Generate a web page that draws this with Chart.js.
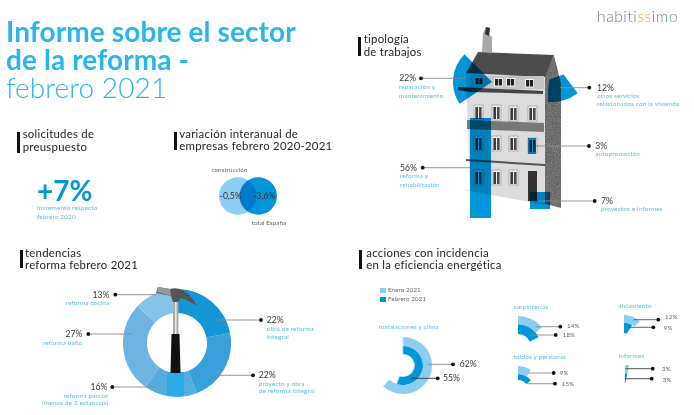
<!DOCTYPE html>
<html lang="es">
<head>
<meta charset="utf-8">
<title>Informe sobre el sector de la reforma - febrero 2021</title>
<script src="https://cdn.jsdelivr.net/npm/chart.js@4"></script>
<style>
  html, body { margin: 0; padding: 0; background: #fff; }
  #lienzo { position: relative; width: 694px; height: 415px; overflow: hidden; font-family: Lato, "Open Sans", sans-serif; }
  #lienzo canvas { position: absolute; }
  #lienzo svg { position: absolute; left: 0; top: 0; }
  .azul { mix-blend-mode: multiply; }
  .t { position: absolute; white-space: nowrap; transform: translateY(-50%); line-height: 1; }
  .titulo { font-size: 28px; font-weight: 700; color: #29b5ee; letter-spacing: .1px; }
  .titulo.fino { font-weight: 300; }
  .seccion { font-size: 11.4px; color: #222; letter-spacing: .25px; }
  .pct { font-size: 8.6px; color: #333; }
  .sub { font-size: 6.4px; color: #55bde9; letter-spacing: .15px; }
  .gris { font-size: 6.2px; color: #666; letter-spacing: .1px; }
  .barra { position: absolute; background: #111; }
  .cuadro { position: absolute; width: 5.6px; height: 5.4px; }
</style>
</head>
<body>
<div id="lienzo">
  <!-- la casa, foto de fondo de "tipología de trabajos" -->
  <svg width="694" height="415" viewBox="0 0 694 415">
    <defs>
      <filter id="grano" x="0" y="0" width="100%" height="100%">
        <feTurbulence type="fractalNoise" baseFrequency="1.1" numOctaves="2" result="r"/>
        <feColorMatrix in="r" type="saturate" values="0"/>
        <feComponentTransfer><feFuncA type="linear" slope="0" intercept="1"/></feComponentTransfer>
        <feBlend in2="SourceGraphic" mode="multiply"/>
        <feComposite in2="SourceGraphic" operator="in"/>
      </filter>
      <g id="ventana">
        <rect x="0" y="0" width="9" height="15" fill="#f2f2f2" stroke="#777" stroke-width=".5"/>
        <rect x="1.4" y="2" width="2.6" height="12" fill="#3a3a3a"/>
        <rect x="5" y="2" width="2.6" height="12" fill="#4a4a4a"/>
      </g>
      <g id="buhardilla">
        <rect x="0" y="0" width="9" height="8.5" fill="#f5f5f5"/>
        <rect x="1" y="1" width="3.2" height="6.5" fill="#222"/>
        <rect x="4.9" y="1" width="3.2" height="6.5" fill="#222"/>
      </g>
    </defs>
    <path d="M482,52 L483,33 L486,27 L490,28 L489,34 L492,37 L492,52 Z" fill="#a8a8a8"/>
    <path d="M486,27 L490,28 L489,36 L485,34 Z" fill="#333"/>
    <path d="M466,73 L470,190 L464,190 L530,202 L545,205 L545,75 Z" fill="#dcdcdc"/>
    <path d="M545,75 L554,55 L561,83 L561,208 L545,204 Z" fill="#9a9a9a" filter="url(#grano)"/>
    <path d="M478,52 L554,55 L545,77 L466,73 Z" fill="#4c4c4c"/>
    <rect x="470" y="76" width="74" height="13" fill="#c4c4c4"/>
    <use href="#buhardilla" x="474.5" y="77"/>
    <use href="#buhardilla" x="494" y="78"/>
    <use href="#buhardilla" x="506" y="78"/>
    <use href="#buhardilla" x="525" y="79"/>
    <path d="M458,87 L543,91 L543,94 L470,92 L458,90 Z" fill="#444"/>
    <use href="#ventana" x="474" y="105"/>
    <use href="#ventana" x="492" y="105"/>
    <use href="#ventana" x="509" y="106"/>
    <use href="#ventana" x="528" y="106"/>
    <path d="M467,120 L544,123 L544,132 L467,129 Z" fill="#555" fill-opacity=".75"/>
    <use href="#ventana" x="474" y="136"/>
    <use href="#ventana" x="492" y="136"/>
    <use href="#ventana" x="509" y="136"/>
    <use href="#ventana" x="528" y="138"/>
    <path d="M466,159 L545,164 L545,166 L466,161 Z" fill="#555"/>
    <use href="#ventana" x="474" y="170"/>
    <use href="#ventana" x="492" y="170"/>
    <use href="#ventana" x="509" y="170"/>
    <rect x="528" y="171" width="9" height="30" fill="#333"/>
  </svg>

  <canvas id="secReparacion" class="azul" style="left:453px;top:43px"></canvas>
  <canvas id="secOtros" class="azul" style="left:507.5px;top:15.2px;clip-path:polygon(40.5px 64.8px,54.5px 59.8px,87px 40px,87px 87px,40.5px 87px)"></canvas>
  <canvas id="barReforma" class="azul" style="left:470px;top:118px"></canvas>
  <canvas id="barProyectos" class="azul" style="left:530px;top:192px"></canvas>
  <canvas id="barAuto" class="azul" style="left:528px;top:138px"></canvas>

  <canvas id="burbujas" style="left:199.5px;top:170px"></canvas>
  <canvas id="donut" style="left:123px;top:288.5px"></canvas>
  <canvas id="fanClima" style="left:374.3px;top:336.6px"></canvas>
  <canvas id="fanCarpinterias" style="left:487.3px;top:315.7px"></canvas>
  <canvas id="fanToldos" style="left:494.3px;top:366px"></canvas>
  <canvas id="fanAislamiento" style="left:601.3px;top:315px"></canvas>
  <canvas id="fanInformes" style="left:603.7px;top:365px"></canvas>

  <!-- martillo y líneas guía por encima de los gráficos -->
  <svg id="guias" width="694" height="415" viewBox="0 0 694 415">
    <path d="M167,372 L184,372 L184,396 Q175.5,397 167,395.6 Z" fill="#2aaae6"/>
    <rect x="173" y="297" width="5.4" height="38" fill="#a9a9a9"/>
    <rect x="175" y="297" width="1.6" height="38" fill="#e8e8e8"/>
    <path d="M171.5,334 L179.5,334 L180.5,373 L170.5,373 Z" fill="#111"/>
    <path d="M156,293 L158,287 L170,289 Q178,287 184,291 Q192,296 197,306 Q188,300 181,298 L178,302 L173,302 L171,296 Z" fill="#555"/>
    <path d="M158,287 L170,289 L171,296 L157,292 Z" fill="#999"/>
  </svg>
</div>

<script>
//Datos -----------------------------------------------------------------------
const tipologiaNombres = [["reparación y", "mantenimiento"], ["otros servicios", "relacionados con la vivienda"], ["autopromoción"], ["reforma y", "rehabilitación"], ["proyectos e informes"]];
const tipologiaValores = [22, 12, 3, 56, 7];

const variacionNombres = ["construcción", "total España"];
const variacionValores = [-0.5, -3.6];

const tendenciasNombres = ["obra de reforma integral", "proyecto y obra de reforma integral", "reforma parcial (menos de 3 estancias)", "reforma baño", "reforma cocina"];
const tendenciasValores = [22, 22, 16, 27, 13];

const mesesLeyenda = ["Enero 2021", "Febrero 2021"];
const climaValores = [62, 55];
const carpinteriasValores = [14, 18];
const toldosValores = [9, 15];
const aislamientoValores = [12, 9];
const informesValores = [3, 3];

const AZUL = "#0096d9";
const CLARO = "#8ccdf2";

const lienzo = document.getElementById("lienzo");
const guias = document.getElementById("guias");

// Texto real colocado a mano, y = centro de la línea
function texto(x, y, cadena, clase, derecha) {
  const el = document.createElement("div");
  el.className = "t " + clase;
  el.textContent = cadena;
  if (derecha) el.style.right = (694 - x) + "px";
  else el.style.left = x + "px";
  el.style.top = y + "px";
  lienzo.appendChild(el);
  return el;
}

// Línea guía con su punto negro
function guia(x1, x2, y, color) {
  const ns = "http://www.w3.org/2000/svg";
  const l = document.createElementNS(ns, "line");
  l.setAttribute("x1", x1); l.setAttribute("x2", x2);
  l.setAttribute("y1", y); l.setAttribute("y2", y);
  l.setAttribute("stroke", color || "#8a8a8a");
  l.setAttribute("stroke-width", "0.9");
  guias.appendChild(l);
  const c = document.createElementNS(ns, "circle");
  c.setAttribute("cx", x2); c.setAttribute("cy", y); c.setAttribute("r", "1.9");
  c.setAttribute("fill", "#111");
  guias.appendChild(c);
}

function cabecera(x, y1, y2, ancho, lineas, yLineas, xTexto) {
  const b = document.createElement("div");
  b.className = "barra";
  b.style.cssText = `left:${x}px;top:${y1}px;width:${ancho}px;height:${y2 - y1}px`;
  lienzo.appendChild(b);
  lineas.forEach((s, i) => texto(xTexto, yLineas[i], s, "seccion"));
}

function pct(v) { return v + "%"; }

//Gráficos --------------------------------------------------------------------
Chart.defaults.animation = false;
Chart.defaults.responsive = false;

function baseOpciones(extra) {
  return Object.assign({
    animation: false,
    responsive: false,
    layout: { padding: 0 },
    plugins: { legend: { display: false }, tooltip: { enabled: false } },
    events: []
  }, extra);
}

function tamano(id, w, h) {
  const c = document.getElementById(id);
  c.width = w; c.height = h;
  c.style.width = w + "px"; c.style.height = h + "px";
  return c;
}

// Sector sobre la casa: valor + resto transparente
function sector(id, valor, radio, giro) {
  new Chart(tamano(id, radio * 2, radio * 2), {
    type: "doughnut",
    data: { labels: ["valor", "resto"], datasets: [{ data: [valor, 100 - valor], backgroundColor: [AZUL, "transparent"], borderWidth: 0 }] },
    options: baseOpciones({ cutout: 0, rotation: giro })
  });
}

// Barra que ocupa todo su canvas
function barra(id, valor, w, h) {
  new Chart(tamano(id, w, h), {
    type: "bar",
    data: { labels: [""], datasets: [{ data: [valor], backgroundColor: AZUL, barPercentage: 1, categoryPercentage: 1 }] },
    options: baseOpciones({ scales: { x: { display: false }, y: { display: false, min: 0, max: valor } } })
  });
}

// Abanico de dos anillos: enero fuera, febrero dentro
function abanico(id, valores, rFuera, rMedio, rDentro) {
  new Chart(tamano(id, rFuera * 2, rFuera * 2), {
    type: "doughnut",
    data: {
      labels: ["valor", "resto"],
      datasets: [
        { data: [valores[0], 100 - valores[0]], backgroundColor: [CLARO, "transparent"], borderWidth: 0, weight: rFuera - rMedio },
        { data: [valores[1], 100 - valores[1]], backgroundColor: [AZUL, "transparent"], borderWidth: 0, weight: rMedio - rDentro }
      ]
    },
    options: baseOpciones({ cutout: rDentro })
  });
}

sector("secReparacion", tipologiaValores[0], 39, 236);
sector("secOtros", tipologiaValores[1], 43.5, 143);
barra("barReforma", tipologiaValores[3], 21, 100);
barra("barProyectos", tipologiaValores[4], 20, 17);
barra("barAuto", tipologiaValores[2], 8, 16);

// Los dos círculos se mezclan donde se pisan
const multiplicar = {
  id: "multiplicar",
  beforeDatasetsDraw(chart) { chart.ctx.globalCompositeOperation = "multiply"; },
  afterDatasetsDraw(chart) { chart.ctx.globalCompositeOperation = "source-over"; }
};
new Chart(tamano("burbujas", 96, 52), {
  type: "scatter",
  data: { datasets: [{ data: variacionValores.map((v, i) => ({ x: i, y: 0 })), backgroundColor: [CLARO, AZUL], pointRadius: 18.7, borderWidth: 0, clip: false }] },
  options: baseOpciones({ scales: { x: { display: false, min: -0.9286, max: 1.9286 }, y: { display: false, min: -1, max: 1 } } }),
  plugins: [multiplicar]
});

new Chart(tamano("donut", 108, 108), {
  type: "doughnut",
  data: {
    labels: tendenciasNombres,
    datasets: [{ data: tendenciasValores, backgroundColor: ["#1495d6", "#3aa0dc", "#55acdf", "#6cb5e3", "#85c3e9"], borderWidth: 0 }]
  },
  options: baseOpciones({ cutout: 30 })
});

abanico("fanClima", climaValores, 28.7, 19.7, 11.3);
abanico("fanCarpinterias", carpinteriasValores, 31, 22.7, 13);
abanico("fanToldos", toldosValores, 24, 16, 10);
abanico("fanAislamiento", aislamientoValores, 23, 15.3, 5);
abanico("fanInformes", informesValores, 21, 12.7, 3);

//Textos ----------------------------------------------------------------------
texto(6, 30.7, "Informe sobre el sector", "titulo");
texto(6, 59, "de la reforma -", "titulo");
texto(6, 87.3, "febrero 2021", "titulo fino");

const logo = texto(597, 17.3, "", "logo");
logo.style.cssText += ";font-size:15.5px;font-weight:300;color:#777;letter-spacing:.6px";
logo.innerHTML = 'habiti<span style="color:#f5a623">ss</span>im<span style="background:linear-gradient(#777 60%,#29b5ee 60%);-webkit-background-clip:text;background-clip:text;color:transparent">o</span>';

cabecera(17, 132, 152.7, 3, ["solicitudes de", "preuspuesto"], [134.3, 146.7], 22.7);
cabecera(174, 131.7, 150, 3, ["variación interanual de", "empresas febrero 2020-2021"], [134, 145.7], 179.3);
cabecera(358, 36.7, 55.7, 3, ["tipología", "de trabajos"], [39.3, 51.7], 363.7);
cabecera(20, 250, 268, 3, ["tendencias", "reforma febrero 2021"], [252.7, 265], 25);
cabecera(359, 250, 269, 3, ["acciones con incidencia", "en la eficiencia energética"], [252.7, 265], 366.3);

// solicitudes
const mas = texto(37, 190, "+7%", "pct");
mas.style.cssText += ";font-size:28px;font-weight:700;color:#0096d9";
texto(37, 208, "incremento respecto", "sub");
texto(37, 216.7, "febrero 2020", "sub");

// variación
texto(229.5, 170, variacionNombres[0], "gris").style.transform = "translate(-50%,-50%)";
texto(269, 222.7, variacionNombres[1], "gris").style.transform = "translate(-50%,-50%)";
variacionValores.forEach((v, i) => {
  const el = texto([230.7, 264.3][i], 196.3, String(v).replace(".", ",") + "%", "pct");
  el.style.transform = "translate(-50%,-50%)";
});

// tipología
guia(465, 421, 78.3);
texto(399.3, 78.3, pct(tipologiaValores[0]), "pct");
texto(399, 87, tipologiaNombres[0][0], "sub");
texto(399, 96, tipologiaNombres[0][1], "sub");
guia(560, 589.3, 87.7);
texto(597, 87.7, pct(tipologiaValores[1]), "pct");
texto(597, 95.7, tipologiaNombres[1][0], "sub");
texto(597, 104, tipologiaNombres[1][1], "sub");
guia(535.7, 589, 146);
texto(595.3, 146, pct(tipologiaValores[2]), "pct");
texto(595.3, 154.3, tipologiaNombres[2][0], "sub");
guia(470, 422.7, 167.7);
texto(400, 167.7, pct(tipologiaValores[3]), "pct");
texto(400, 176, tipologiaNombres[3][0], "sub");
texto(400, 184.7, tipologiaNombres[3][1], "sub");
guia(538.7, 594.7, 201);
texto(601, 201, pct(tipologiaValores[4]), "pct");
texto(601, 209.3, tipologiaNombres[4][0], "sub");

// tendencias
guia(157, 115.3, 294.7);
texto(109.3, 294.7, pct(tendenciasValores[4]), "pct", true);
texto(109.3, 303.3, "reforma cocina", "sub", true);
guia(131.7, 88.3, 334);
texto(82.3, 334, pct(tendenciasValores[3]), "pct", true);
texto(82.3, 342.7, "reforma baño", "sub", true);
guia(156, 112.3, 387);
texto(107.3, 387, pct(tendenciasValores[2]), "pct", true);
texto(107.8, 395.7, "reforma parcial", "sub", true);
texto(108.3, 403.3, "(menos de 3 estancias)", "sub", true);
guia(218, 261, 320);
texto(266.7, 320, pct(tendenciasValores[0]), "pct");
texto(266.7, 328.7, "obra de reforma", "sub");
texto(266.7, 336.7, "integral", "sub");
guia(210, 253, 375.3);
texto(258.7, 375.3, pct(tendenciasValores[1]), "pct");
texto(258.7, 383.7, "proyecto y obra", "sub");
texto(258.7, 391.3, "de reforma integral", "sub");

// acciones: leyenda
[[287.7, CLARO], [296.7, AZUL]].forEach((fila, i) => {
  const c = document.createElement("div");
  c.className = "cuadro";
  c.style.cssText = `left:380.3px;top:${fila[0]}px;background:${fila[1]}`;
  lienzo.appendChild(c);
  texto(388, fila[0] + 2.7, mesesLeyenda[i], "gris");
});

texto(379, 327.3, "instalaciones y clima", "sub");
texto(513.7, 306.7, "carpinterías", "sub");
texto(513.7, 357, "toldos y persianas", "sub");
texto(618.3, 306.3, "aislamiento", "sub");
texto(618.7, 356.3, "informes", "sub");

guia(428, 453, 364.3);
texto(459.7, 364.3, pct(climaValores[0]), "pct");
guia(411.3, 437.7, 378.3, "#333");
texto(443, 377.6, pct(climaValores[1]), "pct");
guia(534.7, 560.3, 326.7);
texto(567, 326, pct(carpinteriasValores[0]), "gris");
guia(530.3, 555.7, 335);
texto(562.7, 335, pct(carpinteriasValores[1]), "gris");
guia(528, 553.7, 373);
texto(559.7, 373, pct(toldosValores[0]), "gris");
guia(527, 555, 383.7);
texto(561.7, 383.7, pct(toldosValores[1]), "gris");
guia(633.7, 658.3, 319.7, "#555");
texto(665, 317.3, pct(aislamientoValores[0]), "gris");
guia(628.7, 653.3, 327.3, "#555");
texto(663.7, 328.3, pct(aislamientoValores[1]), "gris");
guia(625.3, 652.7, 368.7, "#444");
texto(662, 369.3, pct(informesValores[0]), "gris");
guia(625.3, 651.7, 378.7, "#444");
texto(662.7, 380, pct(informesValores[1]), "gris");
</script>
</body>
</html>
